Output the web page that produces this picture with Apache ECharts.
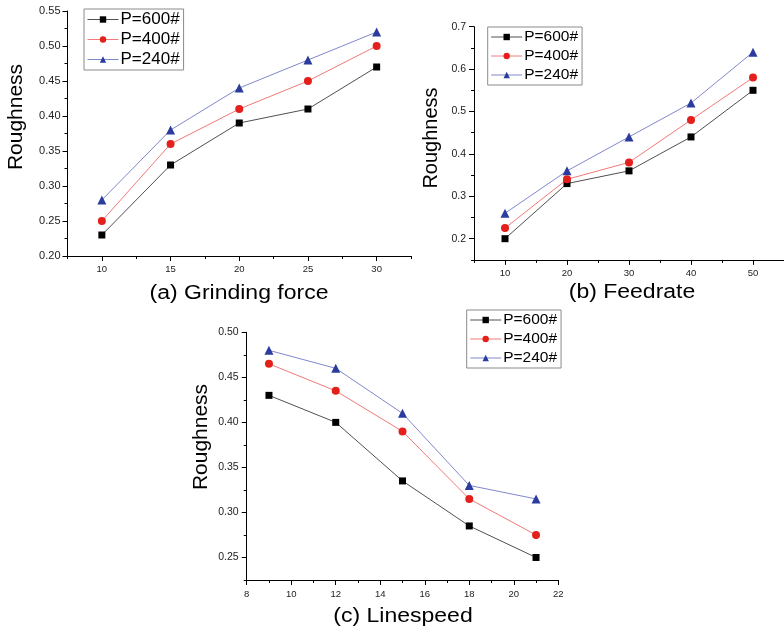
<!DOCTYPE html>
<html>
<head>
<meta charset="utf-8">
<script src="https://cdn.jsdelivr.net/npm/echarts@6/dist/echarts.min.js"></script>
<style>html,body{margin:0;padding:0;background:#fff}#c{width:784px;height:630px}</style>
</head>
<body>
<div id="c"></div>
<script>
// ---------- data ----------
const seriesNames = ['P=600#', 'P=400#', 'P=240#'];

// (a) Grinding force
const aX = [10, 15, 20, 25, 30];
const aP600 = [0.23, 0.33, 0.39, 0.41, 0.47];
const aP400 = [0.25, 0.36, 0.41, 0.45, 0.50];
const aP240 = [0.28, 0.38, 0.44, 0.48, 0.52];
const aXTicks = [10, 15, 20, 25, 30];
const aXMinor = [7.5, 12.5, 17.5, 22.5, 27.5, 32.5];
const aYTicks = [0.20, 0.25, 0.30, 0.35, 0.40, 0.45, 0.50, 0.55];
const aYMinor = [0.225, 0.275, 0.325, 0.375, 0.425, 0.475, 0.525];

// (b) Feedrate
const bX = [10, 20, 30, 40, 50];
const bP600 = [0.20, 0.33, 0.36, 0.44, 0.55];
const bP400 = [0.225, 0.34, 0.38, 0.48, 0.58];
const bP240 = [0.26, 0.36, 0.44, 0.52, 0.64];
const bXTicks = [10, 20, 30, 40, 50];
const bXMinor = [5, 15, 25, 35, 45, 55];
const bYTicks = [0.2, 0.3, 0.4, 0.5, 0.6, 0.7];
const bYMinor = [0.15, 0.25, 0.35, 0.45, 0.55, 0.65];

// (c) Linespeed
const cX = [9, 12, 15, 18, 21];
const cP600 = [0.43, 0.40, 0.335, 0.285, 0.25];
const cP400 = [0.465, 0.435, 0.39, 0.315, 0.275];
const cP240 = [0.48, 0.46, 0.41, 0.33, 0.315];
const cXTicks = [8, 10, 12, 14, 16, 18, 20, 22];
const cXMinor = [9, 11, 13, 15, 17, 19, 21];
const cYTicks = [0.25, 0.30, 0.35, 0.40, 0.45, 0.50];
const cYMinor = [0.225, 0.275, 0.325, 0.375, 0.425, 0.475];

const panelTitles = ['(a) Grinding force', '(b) Feedrate', '(c) Linespeed'];
const yName = 'Roughness';

// ---------- styles ----------
const FONT = 'Liberation Sans, Arial, sans-serif';
const styles = [
  { symbol: 'rect', symbolSize: 7, color: '#000000', line: '#505050' },
  { symbol: 'circle', symbolSize: 8, color: '#e3201b', line: '#f07a78' },
  { symbol: 'triangle', symbolSize: 9, color: '#2b3c9e', line: '#8088cc' }
];

const panels = [
  { grid: { left: 67.5, top: 11, width: 343.5, height: 245 },
    x: aX, ys: [aP600, aP400, aP240], xMin: 7.5, xMax: 32.5, yMin: 0.20, yMax: 0.55,
    xT: aXTicks, xM: aXMinor, yT: aYTicks, yM: aYMinor, yDec: 2, yFont: 11, xFont: 9.5,
    yMargin: 7, xMargin: 8 },
  { grid: { left: 474, top: 26.7, width: 315.5, height: 233.2 },
    x: bX, ys: [bP600, bP400, bP240], xMin: 5, xMax: 55, yMin: 0.15, yMax: 0.70,
    xT: bXTicks, xM: bXMinor, yT: bYTicks, yM: bYMinor, yDec: 1, yFont: 10.5, xFont: 9.5,
    yMargin: 8, xMargin: 8 },
  { grid: { left: 246.7, top: 332.3, width: 311.6, height: 247.7 },
    x: cX, ys: [cP600, cP400, cP240], xMin: 8, xMax: 22, yMin: 0.225, yMax: 0.50,
    xT: cXTicks, xM: cXMinor, yT: cYTicks, yM: cYMinor, yDec: 2, yFont: 10.5, xFont: 9.5,
    yMargin: 8, xMargin: 9 }
];

const grids = [], xAxes = [], yAxes = [], series = [];
panels.forEach((p, i) => {
  grids.push(Object.assign({ containLabel: false }, p.grid));
  const axisLine = { show: true, onZero: false, lineStyle: { color: '#000', width: 1 } };
  xAxes.push({ type: 'value', gridIndex: i, position: 'bottom', min: p.xMin, max: p.xMax,
    axisLine: axisLine, splitLine: { show: false },
    axisTick: { show: true, inside: false, length: 5, customValues: p.xT, lineStyle: { color: '#000' } },
    axisLabel: { show: true, customValues: p.xT, margin: p.xMargin, fontSize: p.xFont, fontFamily: FONT, color: '#222',
      formatter: v => String(Math.round(v)) } });
  xAxes.push({ type: 'value', gridIndex: i, position: 'bottom', min: p.xMin, max: p.xMax,
    axisLine: { show: false }, splitLine: { show: false }, axisLabel: { show: false },
    axisTick: { show: true, inside: false, length: 3, customValues: p.xM, lineStyle: { color: '#000' } } });
  yAxes.push({ type: 'value', gridIndex: i, position: 'left', min: p.yMin, max: p.yMax,
    axisLine: axisLine, splitLine: { show: false },
    axisTick: { show: true, inside: false, length: 5, customValues: p.yT, lineStyle: { color: '#000' } },
    axisLabel: { show: true, customValues: p.yT, margin: p.yMargin, fontSize: p.yFont, fontFamily: FONT, color: '#222',
      formatter: v => v.toFixed(p.yDec) } });
  yAxes.push({ type: 'value', gridIndex: i, position: 'left', min: p.yMin, max: p.yMax,
    axisLine: { show: false }, splitLine: { show: false }, axisLabel: { show: false },
    axisTick: { show: true, inside: false, length: 3, customValues: p.yM, lineStyle: { color: '#000' } } });

  p.ys.forEach((vals, k) => {
    const s = styles[k];
    series.push({
      type: 'line', name: seriesNames[k], xAxisIndex: i * 2, yAxisIndex: i * 2,
      data: p.x.map((xv, j) => [xv, vals[j]]),
      symbol: s.symbol, symbolSize: s.symbolSize, showSymbol: true,
      itemStyle: { color: s.color },
      lineStyle: { color: s.line, width: 1 },
      emphasis: { disabled: true }, animation: false
    });
  });
});

const legendData = seriesNames.map((n, k) => ({
  name: n,
  itemStyle: { color: styles[k].color },
  lineStyle: { color: styles[k].line, width: 1 }
}));
function makeLegend(left, top, fs) {
  return {
    orient: 'vertical', data: legendData, itemWidth: 31, itemHeight: 8, itemGap: 3,
    left: left, top: top,
    backgroundColor: '#fff', borderColor: '#8a8a8a', borderWidth: 1, borderRadius: 0,
    padding: [2, 4, 2, 3],
    textStyle: { fontSize: fs, fontFamily: FONT, color: '#000', lineHeight: 16, padding: [0, 0, 0, -3] },
    selectedMode: false
  };
}
const legends = [
  makeLegend(84, 9, 17),
  makeLegend(487.7, 27, 15.5),
  makeLegend(466.7, 310, 15.5)
];

const texts = [
  { type: 'text', x: 239, y: 293, scaleX: 1.15, style: { text: panelTitles[0], fontSize: 20, fontFamily: FONT, fill: '#000', textAlign: 'center', textVerticalAlign: 'middle' } },
  { type: 'text', x: 632, y: 292, scaleX: 1.15, style: { text: panelTitles[1], fontSize: 20, fontFamily: FONT, fill: '#000', textAlign: 'center', textVerticalAlign: 'middle' } },
  { type: 'text', x: 403, y: 616, scaleX: 1.15, style: { text: panelTitles[2], fontSize: 20, fontFamily: FONT, fill: '#000', textAlign: 'center', textVerticalAlign: 'middle' } },
  { type: 'text', x: 16, y: 117, rotation: Math.PI / 2, style: { text: yName, fontSize: 21, fontFamily: FONT, fill: '#000', textAlign: 'center', textVerticalAlign: 'middle' } },
  { type: 'text', x: 431.5, y: 138, rotation: Math.PI / 2, style: { text: yName, fontSize: 20, fontFamily: FONT, fill: '#000', textAlign: 'center', textVerticalAlign: 'middle' } },
  { type: 'text', x: 201, y: 437, rotation: Math.PI / 2, style: { text: yName, fontSize: 21, fontFamily: FONT, fill: '#000', textAlign: 'center', textVerticalAlign: 'middle' } }
];

const chart = echarts.init(document.getElementById('c'), null, { renderer: 'canvas' });
chart.setOption({
  backgroundColor: '#fff',
  animation: false,
  grid: grids, xAxis: xAxes, yAxis: yAxes, series: series,
  legend: legends,
  graphic: texts
});
</script>
</body>
</html>
